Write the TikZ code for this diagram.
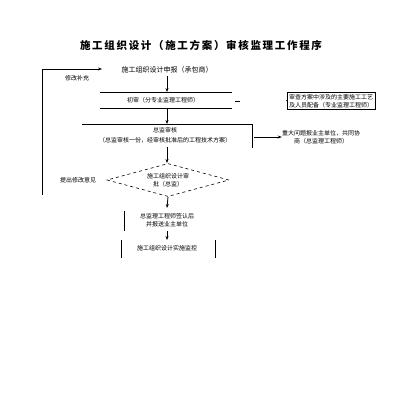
\documentclass[tikz,border=0pt]{standalone}
\usepackage{fontspec}
\setmainfont{Noto Sans CJK SC}
\newfontfamily\titlefont[LetterSpace=16]{Noto Sans CJK SC}
\usetikzlibrary{arrows.meta,shapes.geometric}
\begin{document}
\begin{tikzpicture}[x=1pt,y=-1pt,
  every node/.style={inner sep=0pt,font=\fontsize{6}{8}\selectfont,align=center},
  conn/.style={draw=black,line width=0.8pt},
  arr/.style={conn,-{Stealth[length=4pt,width=3pt]}}]
\useasboundingbox[fill=white] (0,0) rectangle (400,410);
\node (title) at (201,45) {\titlefont\fontsize{10.5}{12}\selectfont\bfseries 施工组织设计（施工方案）审核监理工作程序};
% top
\node (apply) at (167,70) {\fontsize{7}{8}\selectfont 施工组织设计申报（承包商）};
\node (fix) at (77,78) {修改补充};
\coordinate (L1) at (42,69);
\coordinate (L2) at (42,195);
\coordinate (ain) at (102,69);
\draw[conn] (L2) -- (L1);
\draw[arr] (L1) -- (ain);
% first review band
\coordinate (b1l) at (100,92); \coordinate (b1r) at (232,92);
\coordinate (b2l) at (100,108); \coordinate (b2r) at (232,108);
\draw[conn] (b1l) -- (b1r);
\draw[conn] (b2l) -- (b2r);
\node (first) at (163,100) {初审（分专业监理工程师）};
\coordinate (a0) at (167,76);
\draw[arr] (a0) -- (167,92);
% right box
\node[draw,line width=0.8pt,inner sep=2pt,minimum width=77pt,minimum height=17pt] (rbox) at (331,101) {审查方案中涉及的主要施工工艺\\及人员配备（专业监理工程师）};
\coordinate (t1) at (235,101); \coordinate (t2) at (240,101);
\draw[conn] (t1) -- (t2);
\coordinate (t3) at (287,100);
\draw[conn] (t3) -- (rbox.west);
% second band
\draw[arr] (167,108) -- (167,124);
\coordinate (c1) at (82,124); \coordinate (c2) at (252,124); \coordinate (c3) at (252,148);
\draw[conn] (c1) -- (c2) -- (c3);
\node (chief) at (165,130) {总监审核};
\node (chief2) at (165,140) {（总监审核一份，经审核批准后的工程技术方案）};
\node (major) at (321,137) {重大问题报业主单位，共同协\\商（总监理工程师）};
\coordinate (m1) at (254,137);
\draw[arr] (m1) -- (major.west);
% diamond
\draw[arr] (167,147) -- (167,163);
\node[diamond,draw,dashed,line width=0.6pt,minimum width=122pt,minimum height=33pt,inner sep=0pt,aspect=3.7] (dia) at (168,180) {};
\node at (168,180) {施工组织设计审\\批（总监）};
\node (mod) at (78,180) {提出修改意见};
\coordinate (d1) at (167,208);
\draw[arr] (dia.south) -- (d1);
% approve
\node (sign) at (167,220) {总监理工程师签认后\\并报送业主单位};
\coordinate (v1) at (124,211); \coordinate (v2) at (124,231);
\draw[conn] (v1) -- (v2);
\draw[arr] (167,231) -- (167,240);
% bottom
\node (impl) at (167,248) {施工组织设计实施监控};
\coordinate (w1) at (121,240); \coordinate (w2) at (121,258);
\coordinate (w3) at (215,240); \coordinate (w4) at (215,258);
\draw[conn] (w1) -- (w2);
\draw[conn] (w3) -- (w4);
\end{tikzpicture}
\end{document}
